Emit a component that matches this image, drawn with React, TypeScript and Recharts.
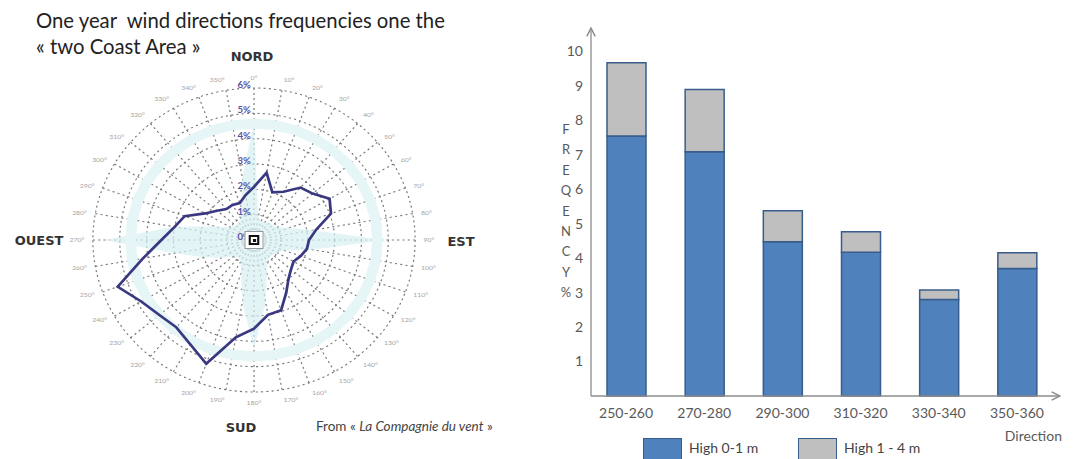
import React from "react";
import {
  RadarChart,
  PolarGrid,
  PolarAngleAxis,
  PolarRadiusAxis,
  Radar,
  BarChart,
  Bar,
  XAxis,
  YAxis,
} from "recharts";

// wind rose (left)
const directions = [
  "0°", "10°", "20°", "30°", "40°", "50°", "60°", "70°", "80°",
  "90°", "100°", "110°", "120°", "130°", "140°", "150°", "160°", "170°",
  "180°", "190°", "200°", "210°", "220°", "230°", "240°", "250°", "260°",
  "270°", "280°", "290°", "300°", "310°", "320°", "330°", "340°", "350°",
];
const frequency = [
  2.1, 2.7, 2.0, 2.2, 2.7, 2.85, 3.25, 3.05, 2.35,
  2.05, 2.0, 1.85, 1.7, 1.8, 2.0, 2.4, 2.95, 3.0,
  3.5, 3.9, 5.2, 4.75, 4.5, 4.6, 4.85, 5.4, 4.2,
  3.45, 3.0, 2.75, 2.1, 1.8, 1.6, 1.6, 1.55, 1.8,
];
const shade = [
  4.7, 0.9, 0.8, 0.8, 0.9, 0.9, 1.0, 1.4, 2.2,
  4.9, 2.2, 1.2, 1.0, 0.9, 0.9, 1.0, 1.4, 2.5,
  4.3, 2.5, 1.4, 1.0, 0.9, 1.0, 1.4, 2.0, 3.0,
  5.6, 3.0, 1.6, 1.0, 0.9, 0.9, 1.0, 1.4, 2.5,
];
const halo = [
  4.6, 4.6, 4.6, 4.6, 4.6, 4.6, 4.6, 4.6, 4.6,
  4.6, 4.6, 4.6, 4.6, 4.6, 4.6, 4.6, 4.6, 4.6,
  4.6, 4.6, 4.6, 4.6, 4.6, 4.6, 4.6, 4.6, 4.6,
  4.6, 4.6, 4.6, 4.6, 4.6, 4.6, 4.6, 4.6, 4.6,
];
const percentTicks = [0, 1, 2, 3, 4, 5, 6];

// stacked bars (right)
const ranges = ["250-260", "270-280", "290-300", "310-320", "330-340", "350-360"];
const lowWaves = [7.54, 7.08, 4.47, 4.17, 2.8, 3.7];
const highWaves = [2.12, 1.81, 0.9, 0.59, 0.27, 0.45];
const freqTicks = [1, 2, 3, 4, 5, 6, 7, 8, 9, 10];
const yLetters = ["F", "R", "E", "Q", "E", "N", "C", "Y", "%"];

const titleLines = ["One year  wind directions frequencies one the", "« two Coast Area »"];

const series = [
  { key: "low", name: "High 0-1 m", fill: "#4f81bd" },
  { key: "high", name: "High 1 - 4 m", fill: "#bfbfbf" },
];

const roseData = directions.map((d, i) => ({
  dir: d,
  freq: frequency[i],
  shade: shade[i],
  halo: halo[i],
}));

const barData = ranges.map((r, i) => ({
  range: r,
  low: lowWaves[i],
  high: highWaves[i],
}));

const FONT = "Lato, 'Open Sans', sans-serif";
const AXIS_GREY = "#8c8c8c";
const TEXT_GREY = "#595959";

function FrequencyLabel(props: any) {
  const vb = props.viewBox || {};
  const x = vb.x + 15;
  const y0 = vb.y + 106;
  return (
    <text x={x} y={y0} textAnchor="middle" fill={TEXT_GREY} fontSize={13} fontFamily={FONT}>
      {yLetters.map((ch, i) => (
        <tspan key={i} x={x} y={y0 + i * 20.4}>
          {ch}
        </tspan>
      ))}
    </text>
  );
}

function DirectionLabel(props: any) {
  const vb = props.viewBox || {};
  return (
    <text
      x={vb.x + vb.width + 2}
      y={vb.y + 45}
      textAnchor="end"
      fill={TEXT_GREY}
      fontSize={14}
      fontFamily={FONT}
    >
      Direction
    </text>
  );
}

const compass: React.CSSProperties = {
  position: "absolute",
  fontFamily: "'DejaVu Sans', sans-serif",
  fontWeight: "bold",
  fontSize: 13,
  color: "#333",
  lineHeight: 1,
  transform: "translate(-50%, -50%)",
};

export default function App() {
  return (
    <div
      style={{
        position: "absolute",
        left: 0,
        top: 0,
        width: 1079,
        height: 459,
        background: "#fff",
        overflow: "hidden",
      }}
    >
      <svg width={0} height={0} style={{ position: "absolute" }}>
        <defs>
          <marker
            id="axisArrow"
            viewBox="0 0 10 10"
            refX={9}
            refY={5}
            markerWidth={8}
            markerHeight={8}
            orient="auto-start-reverse"
          >
            <path d="M1 1 L9 5 L1 9" fill="none" stroke={AXIS_GREY} strokeWidth={1.4} />
          </marker>
        </defs>
      </svg>

      {titleLines.map((line, i) => (
        <div
          key={i}
          style={{
            position: "absolute",
            left: 36,
            top: 8 + i * 26,
            fontFamily: FONT,
            fontSize: 20.3,
            lineHeight: "24px",
            color: "#222",
            whiteSpace: "pre",
          }}
        >
          {line}
        </div>
      ))}

      <div
        style={{
          position: "absolute",
          left: 0,
          top: 0,
          width: 540,
          height: 459,
          transform: "scaleX(1.06)",
          transformOrigin: "254px 240px",
        }}
      >
        <RadarChart
          width={540}
          height={459}
          cx={254}
          cy={240}
          outerRadius={152}
          data={roseData}
          margin={{ top: 0, right: 0, bottom: 0, left: 0 }}
        >
          <Radar
            dataKey="shade"
            stroke="none"
            fill="#d7f0f2"
            fillOpacity={0.7}
            dot={false}
            isAnimationActive={false}
          />
          <Radar
            dataKey="halo"
            stroke="#e6f5f6"
            strokeWidth={10}
            fill="none"
            dot={false}
            isAnimationActive={false}
          />
          <PolarGrid gridType="circle" stroke="#777" strokeDasharray="2 3" strokeWidth={1.1} />
          <PolarAngleAxis
            dataKey="dir"
            tickLine={false}
            axisLine={false}
            tick={{ fontSize: 6.5, fill: "#a5a5a5", fontFamily: FONT }}
          />
          <PolarRadiusAxis
            angle={90}
            domain={[0, 6]}
            ticks={percentTicks as any}
            tickCount={7}
            axisLine={false}
            orientation="left"
            tickFormatter={(v: number) => `${v}%`}
            tick={{ fontSize: 9, fill: "#5b50a8", fontWeight: "bold", fontFamily: FONT, dx: -3 }}
          />
          <Radar
            dataKey="freq"
            stroke="#3a3880"
            strokeWidth={2.6}
            fill="none"
            dot={false}
            isAnimationActive={false}
          />
        </RadarChart>
        <div
          style={{
            position: "absolute",
            left: 254 - 9,
            top: 240 - 9,
            width: 16,
            height: 16,
            border: "1px solid #999",
            background: "#fff",
          }}
        >
          <div
            style={{
              position: "absolute",
              left: 3,
              top: 3,
              width: 6,
              height: 6,
              border: "2px solid #111",
            }}
          >
            <div
              style={{ position: "absolute", left: 1.5, top: 1.5, width: 3, height: 3, background: "#111" }}
            />
          </div>
        </div>
      </div>

      <div style={{ ...compass, left: 252, top: 56 }}>NORD</div>
      <div style={{ ...compass, left: 241, top: 427 }}>SUD</div>
      <div style={{ ...compass, left: 39, top: 240 }}>OUEST</div>
      <div style={{ ...compass, left: 461, top: 241 }}>EST</div>
      <div
        style={{
          position: "absolute",
          left: 316,
          top: 427,
          transform: "translateY(-50%)",
          fontFamily: FONT,
          fontSize: 13.5,
          lineHeight: 1,
          color: "#444",
          whiteSpace: "pre",
        }}
      >
        {"From « "}
        <i>La Compagnie du vent</i>
        {" »"}
      </div>

      <div style={{ position: "absolute", left: 540, top: 0 }}>
        <BarChart
          width={539}
          height={459}
          data={barData}
          margin={{ top: 28, right: 19, bottom: 0, left: 11 }}
        >
          <XAxis
            dataKey="range"
            height={63}
            tickLine={false}
            tickMargin={6}
            padding={{ left: -4, right: 4 }}
            axisLine={{ stroke: AXIS_GREY, strokeWidth: 1.3, markerEnd: "url(#axisArrow)" }}
            tick={{ fontSize: 14, fill: TEXT_GREY, fontFamily: FONT }}
            label={{ content: DirectionLabel }}
          />
          <YAxis
            type="number"
            width={40}
            domain={[0, 10.67]}
            ticks={freqTicks}
            tickLine={false}
            tickMargin={2}
            axisLine={{ stroke: AXIS_GREY, strokeWidth: 1.3, markerStart: "url(#axisArrow)" }}
            tick={{ fontSize: 14, fill: TEXT_GREY, fontFamily: FONT }}
            label={{ content: FrequencyLabel }}
          />
          {series.map((s) => (
            <Bar
              key={s.key}
              dataKey={s.key}
              name={s.name}
              stackId="waves"
              fill={s.fill}
              stroke="#385d8a"
              strokeWidth={1.5}
              barSize={39}
              isAnimationActive={false}
            />
          ))}
        </BarChart>
      </div>

      {series.map((s, i) => (
        <div
          key={s.key}
          style={{
            position: "absolute",
            left: 643 + i * 155,
            top: 438,
            display: "flex",
            alignItems: "flex-start",
            fontFamily: FONT,
            fontSize: 14,
            color: "#444",
          }}
        >
          <div
            style={{
              width: 37,
              height: 22,
              background: s.fill,
              border: "1.5px solid #385d8a",
              marginRight: 7,
            }}
          />
          <span style={{ marginTop: 1, whiteSpace: "pre" }}>{s.name}</span>
        </div>
      ))}
    </div>
  );
}
